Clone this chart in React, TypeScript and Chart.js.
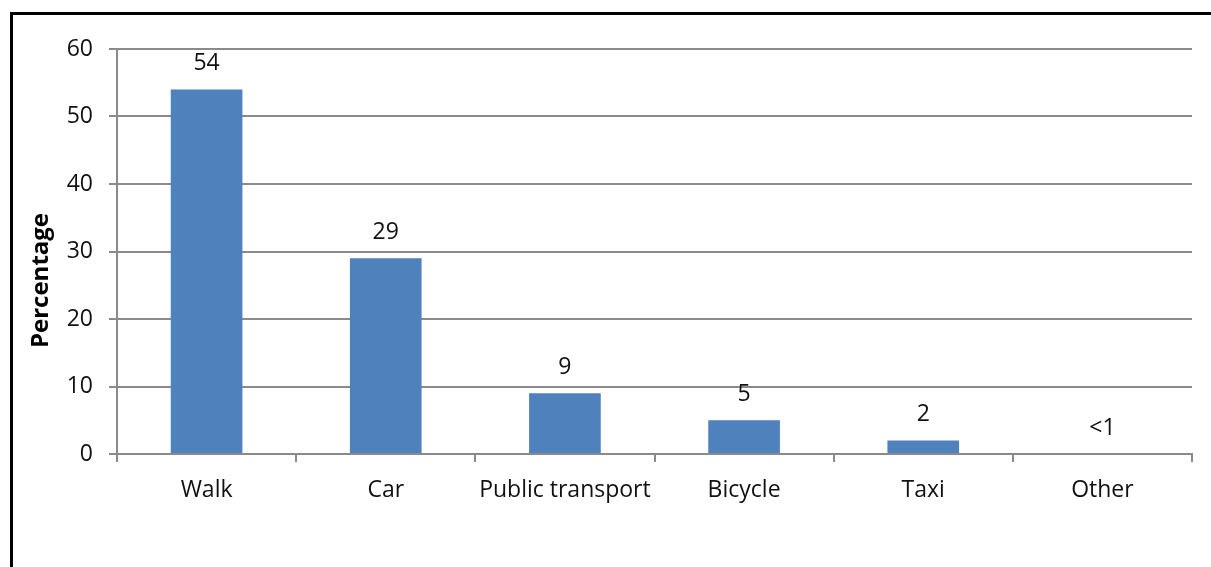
import React, { useEffect, useRef } from "react";
import { Chart, registerables } from "chart.js";

Chart.register(...registerables);

const categories = ["Walk", "Car", "Public transport", "Bicycle", "Taxi", "Other"];
const values = [54, 29, 9, 5, 2, 0];
const valueLabels = ["54", "29", "9", "5", "2", "<1"];
const yTicks = [0, 10, 20, 30, 40, 50, 60];
const yTitle = "Percentage";

const FONT = "'Open Sans', 'Noto Sans', sans-serif";
const GRID = "#8a8a8a";
const TEXT = "#111";

const dataLabelPlugin = {
  id: "dataLabels",
  afterDatasetsDraw(chart: any) {
    const ctx = chart.ctx;
    const meta = chart.getDatasetMeta(0);
    ctx.save();
    ctx.font = `23px ${FONT}`;
    ctx.fillStyle = TEXT;
    ctx.textAlign = "center";
    ctx.textBaseline = "middle";
    meta.data.forEach((el: any, i: number) => {
      ctx.fillText(valueLabels[i], el.x, el.y - 26);
    });
    ctx.restore();
  },
};

const yTitlePlugin = {
  id: "yTitle",
  afterDraw(chart: any) {
    const ctx = chart.ctx;
    const area = chart.chartArea;
    ctx.save();
    ctx.font = `bold 24px ${FONT}`;
    ctx.fillStyle = "#000";
    ctx.textAlign = "center";
    ctx.textBaseline = "middle";
    ctx.translate(41, (area.top + area.bottom) / 2 + 29);
    ctx.rotate(-Math.PI / 2);
    ctx.fillText(yTitle, 0, 0);
    ctx.restore();
  },
};

export default function App() {
  const ref = useRef<HTMLCanvasElement>(null);
  useEffect(() => {
    if (!ref.current) return;
    const chart = new Chart(ref.current, {
      type: "bar",
      data: {
        labels: categories,
        datasets: [
          {
            data: values,
            backgroundColor: "#4f81bd",
            borderWidth: 0,
            categoryPercentage: 0.4,
            barPercentage: 1,
          },
        ],
      },
      options: {
        responsive: false,
        animation: false,
        layout: { padding: { left: 0, top: 49, right: 19, bottom: 0 } },
        plugins: {
          legend: { display: false },
          tooltip: { enabled: false },
        },
        scales: {
          x: {
            afterFit: (s: any) => {
              s.height = 113;
            },
            grid: {
              drawOnChartArea: false,
              drawTicks: true,
              tickLength: 8,
              color: GRID,
              lineWidth: 2,
              offset: true,
            },
            border: { display: true, color: GRID, width: 2 },
            ticks: {
              color: TEXT,
              font: { family: FONT, size: 23 },
              padding: 15,
              maxRotation: 0,
              autoSkip: false,
            },
          },
          y: {
            min: 0,
            max: 60,
            afterFit: (s: any) => {
              s.width = 117;
            },
            afterBuildTicks: (s: any) => {
              s.ticks = yTicks.map((v) => ({ value: v }));
            },
            grid: {
              drawTicks: true,
              tickLength: 8,
              color: GRID,
              lineWidth: 2,
            },
            border: { display: true, color: GRID, width: 2 },
            ticks: {
              color: TEXT,
              font: { family: FONT, size: 23 },
              padding: 16,
            },
          },
        },
      },
      plugins: [dataLabelPlugin, yTitlePlugin],
    });
    return () => chart.destroy();
  }, []);

  return (
    <div
      style={{
        position: "fixed",
        left: 0,
        top: 0,
        width: 1211,
        height: 567,
        background: "#fff",
        overflow: "hidden",
      }}
    >
      <div
        style={{
          position: "absolute",
          left: 10,
          top: 12,
          width: 1300,
          height: 700,
          borderLeft: "3px solid #000",
          borderTop: "3px solid #000",
          boxSizing: "border-box",
        }}
      />
      <canvas
        ref={ref}
        width={1211}
        height={567}
        style={{ position: "absolute", left: 0, top: 0, width: 1211, height: 567 }}
      />
    </div>
  );
}
